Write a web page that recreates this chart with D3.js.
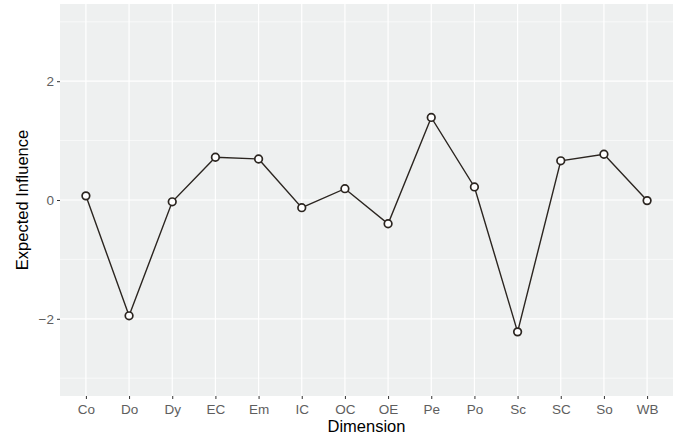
<!DOCTYPE html>
<html><head><meta charset="utf-8">
<script src="https://cdn.jsdelivr.net/npm/d3@7"></script>
<style>body{margin:0;background:#fff}svg{display:block}</style>
</head><body>
<script>
const categories = ["Co","Do","Dy","EC","Em","IC","OC","OE","Pe","Po","Sc","SC","So","WB"];
const values = [0.07,-1.95,-0.03,0.72,0.69,-0.13,0.19,-0.40,1.39,0.22,-2.22,0.66,0.77,-0.01];
const yMajor = [-2,0,2];
const yMinor = [-3,-1,1,3];

const W=678,H=440;
const m={left:60,right:5,top:4,bottom:44};
const svg=d3.select("body").append("svg").attr("width",W).attr("height",H);
const pw=W-m.left-m.right, ph=H-m.top-m.bottom;
const FONT="Liberation Sans, Arial, sans-serif";

const x=d3.scalePoint().domain(categories).range([m.left,m.left+pw]).padding(0.6);
const y=d3.scaleLinear().domain([-3.3,3.3]).range([m.top+ph,m.top]);

svg.append("rect").attr("x",m.left).attr("y",m.top).attr("width",pw).attr("height",ph).attr("fill","#EEF0F0");
const g=svg.append("g");
g.selectAll(".ymin").data(yMinor).join("line").attr("x1",m.left).attr("x2",m.left+pw)
 .attr("y1",d=>y(d)).attr("y2",d=>y(d)).attr("stroke","#fff").attr("stroke-width",0.6);
g.selectAll(".ymaj").data(yMajor).join("line").attr("x1",m.left).attr("x2",m.left+pw)
 .attr("y1",d=>y(d)).attr("y2",d=>y(d)).attr("stroke","#fff").attr("stroke-width",1.2);
g.selectAll(".xmaj").data(categories).join("line").attr("y1",m.top).attr("y2",m.top+ph)
 .attr("x1",d=>x(d)).attr("x2",d=>x(d)).attr("stroke","#fff").attr("stroke-width",1.2);

// axes
const xa=svg.append("g").attr("transform",`translate(0,${m.top+ph})`)
 .call(d3.axisBottom(x).tickSize(3).tickPadding(3));
const ya=svg.append("g").attr("transform",`translate(${m.left},0)`)
 .call(d3.axisLeft(y).tickValues(yMajor).tickSize(3).tickPadding(3).tickFormat(d=>d<0?"\u2212"+Math.abs(d):d));
[xa,ya].forEach(a=>{
  a.select(".domain").remove();
  a.selectAll(".tick line").attr("stroke","#333").attr("stroke-width",1);
  a.selectAll(".tick text").attr("fill","#5E5E5E").attr("font-family",FONT).attr("font-size","13.5px");
});
xa.selectAll(".tick text").attr("dy","0.9em");

const line=d3.line().x((d,i)=>x(categories[i])).y(d=>y(d));
svg.append("path").datum(values).attr("d",line).attr("fill","none").attr("stroke","#2B2520").attr("stroke-width",1.4);
svg.selectAll(".pt").data(values).join("circle").attr("cx",(d,i)=>x(categories[i])).attr("cy",d=>y(d))
 .attr("r",3.8).attr("fill","#fff").attr("stroke","#2B2520").attr("stroke-width",1.7);

svg.append("text").attr("x",m.left+pw/2).attr("y",432).attr("text-anchor","middle")
 .attr("font-family",FONT).attr("font-size","16.5px").attr("fill","#000").text("Dimension");
svg.append("text").attr("transform",`translate(28,${m.top+ph/2}) rotate(-90)`).attr("text-anchor","middle")
 .attr("font-family",FONT).attr("font-size","16.5px").attr("fill","#000").text("Expected Influence");
</script>
</body></html>
